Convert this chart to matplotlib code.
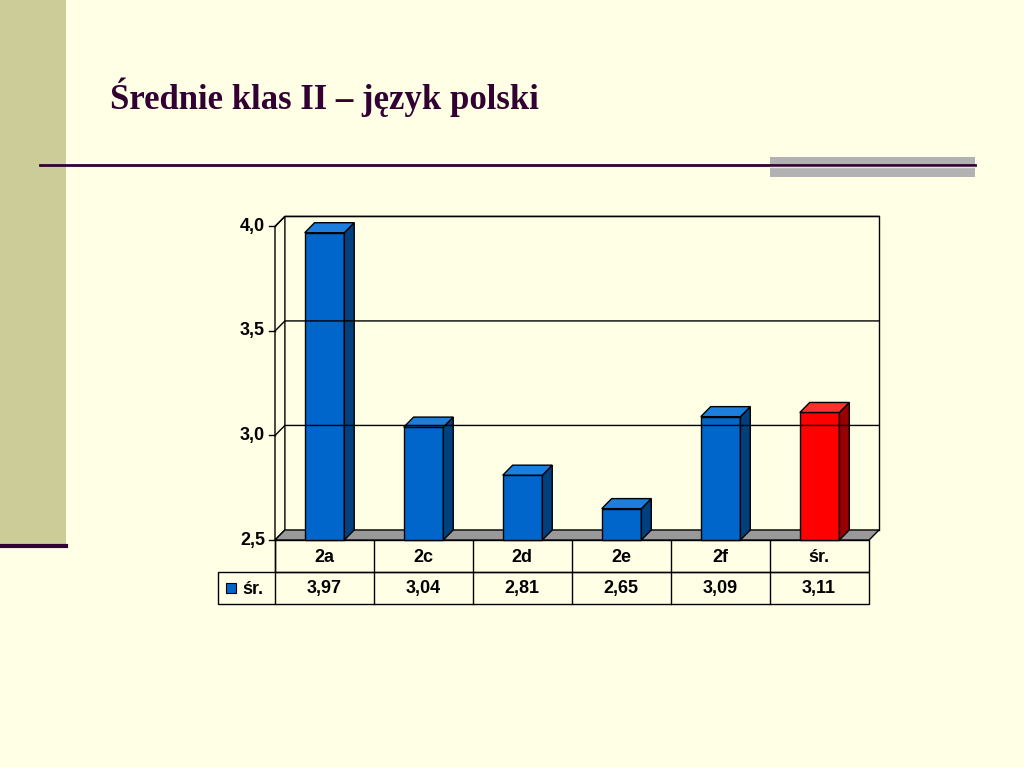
import matplotlib.pyplot as plt
from matplotlib.patches import Polygon, Rectangle

categories = ["2a", "2c", "2d", "2e", "2f", "śr."]
values = [3.97, 3.04, 2.81, 2.65, 3.09, 3.11]
labels = ["3,97", "3,04", "2,81", "2,65", "3,09", "3,11"]
yticks = [2.5, 3.0, 3.5, 4.0]
ytick_labels = ["2,5", "3,0", "3,5", "4,0"]
series_name = "śr."

W, H = 1024, 767
bg = "#FFFFE6"
fig = plt.figure(figsize=(W / 100, H / 100), dpi=100, facecolor=bg)

# decoration layer in pixel coords (y down)
deco = fig.add_axes([0, 0, 1, 1])
deco.set_xlim(0, W)
deco.set_ylim(H, 0)
deco.axis("off")
deco.add_patch(Rectangle((0, 0), 66, 545, color="#CCCC99", lw=0))
deco.plot([0, 66], [546, 546], color="#330033", lw=3)
deco.plot([40, 975], [165, 165], color="#330033", lw=2)
deco.add_patch(Rectangle((770, 157), 205, 20, color="#B2B2B2", lw=0))
deco.plot([770, 975], [167, 167], color="#E5E5E5", lw=1)
deco.text(110, 97, "Średnie klas II – język polski", family="Liberation Serif",
          fontsize=25, fontweight="bold", color="#330033", va="center")

# table below chart
col_l = [275 + 99 * i for i in range(len(categories))]
tc = "#000000"
deco.add_patch(Rectangle((275, 540), 594, 32, fill=False, ec=tc, lw=1))
deco.add_patch(Rectangle((218, 572), 651, 32, fill=False, ec=tc, lw=1))
for x in col_l:
    deco.plot([x, x], [540, 604], color=tc, lw=1)
for x, c, l in zip(col_l, categories, labels):
    deco.text(x + 49, 557, c, ha="center", va="center", fontsize=13,
              fontweight="bold", family="Liberation Sans")
    deco.text(x + 49, 589, l, ha="center", va="center", fontsize=13,
              fontweight="bold", family="Liberation Sans")
deco.add_patch(Rectangle((226, 583), 10, 10, fc="#0066CC", ec="black", lw=0.8))
deco.text(242, 589, series_name, va="center", fontsize=13, fontweight="bold",
          family="Liberation Sans")

# chart axes
ax = fig.add_axes([275 / W, 1 - 540 / H, (882 - 275) / W, (540 - 216) / H])
ax.set_xlim(-0.5, 5.63)
ax.set_ylim(2.5, 4.05)
ax.axis("off")
dx, dy = 0.1, 0.048
x0, x1 = -0.5, 5.5
# left wall & floor
ax.add_patch(Polygon([(x0, 2.5), (x0 + dx, 2.5 + dy), (x0 + dx, 4.0 + dy), (x0, 4.0)],
                     closed=True, fc=bg, ec="black", lw=1, clip_on=False))
ax.add_patch(Polygon([(x0, 2.5), (x1, 2.5), (x1 + dx, 2.5 + dy), (x0 + dx, 2.5 + dy)],
                     closed=True, fc="#999999", ec="black", lw=1, clip_on=False))
ax.plot([x0 + dx, x1 + dx, x1 + dx], [4.0 + dy, 4.0 + dy, 2.5 + dy], color="black", lw=1,
        clip_on=False)
for t, tl in zip(yticks, ytick_labels):
    if t > 2.5:
        ax.plot([x0, x0 + dx, x1 + dx], [t, t + dy, t + dy], color="black", lw=1,
                clip_on=False)
    ax.plot([x0 - 0.06, x0], [t, t], color="black", lw=1, clip_on=False)
    ax.text(x0 - 0.1, t, tl, ha="right", va="center", fontsize=13, fontweight="bold",
            family="Liberation Sans")

bw = 0.4
for i, v in enumerate(values):
    if i == len(values) - 1:
        front, top, side = "#FF0000", "#FF3030", "#990000"
    else:
        front, top, side = "#0066CC", "#1C7FDD", "#00407F"
    l, r = i - bw / 2, i + bw / 2
    ax.add_patch(Rectangle((l, 2.5), bw, v - 2.5, fc=front, ec="black", lw=1, clip_on=False))
    ax.add_patch(Polygon([(r, 2.5), (r + dx, 2.5 + dy), (r + dx, v + dy), (r, v)],
                         closed=True, fc=side, ec="black", lw=1, clip_on=False))
    ax.add_patch(Polygon([(l, v), (r, v), (r + dx, v + dy), (l + dx, v + dy)],
                         closed=True, fc=top, ec="black", lw=1, clip_on=False))

fig.savefig("out.png", dpi=100, facecolor=bg)
